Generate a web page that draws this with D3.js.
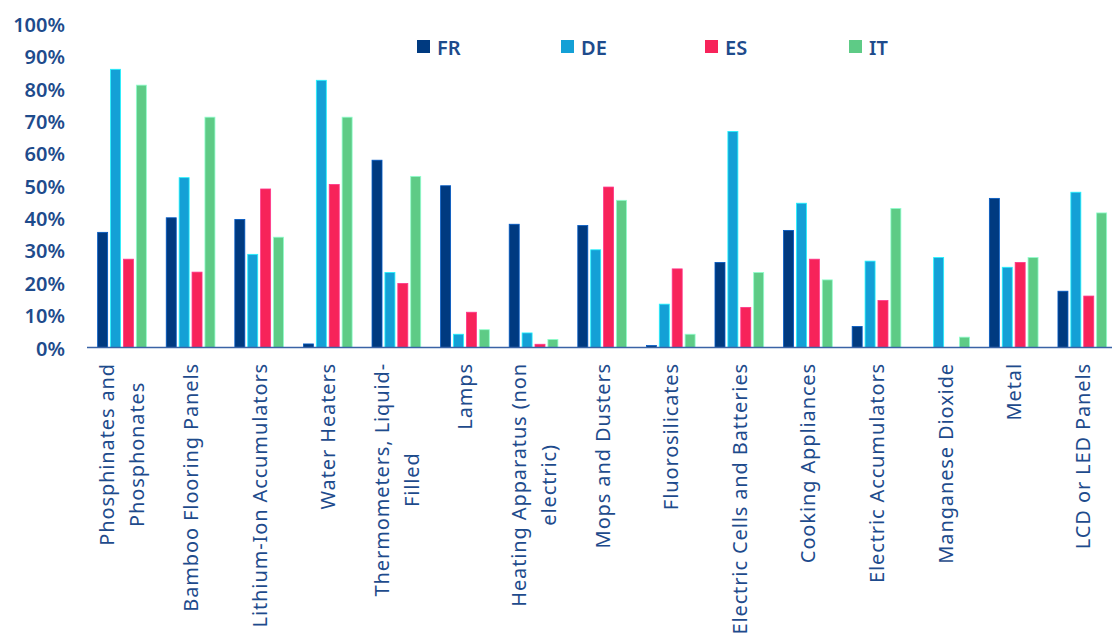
<!DOCTYPE html>
<html>
<head>
<meta charset="utf-8">
<script src="https://cdn.jsdelivr.net/npm/d3@7"></script>
<style>
  html, body { margin: 0; padding: 0; background: #ffffff; }
  svg { display: block; }
  text { font-family: "Noto Sans", "DejaVu Sans", sans-serif; fill: #1e4b8c; }
</style>
</head>
<body>
<svg id="chart" width="1112" height="641"></svg>
<script>
// Product categories (line breaks mark wrapped labels)
const categories = [
  "Phosphinates and\nPhosphonates",
  "Bamboo Flooring Panels",
  "Lithium-Ion Accumulators",
  "Water Heaters",
  "Thermometers, Liquid-\nFilled",
  "Lamps",
  "Heating Apparatus (non\nelectric)",
  "Mops and Dusters",
  "Fluorosilicates",
  "Electric Cells and Batteries",
  "Cooking Appliances",
  "Electric Accumulators",
  "Manganese Dioxide",
  "Metal",
  "LCD or LED Panels"
];

const seriesNames = ["FR", "DE", "ES", "IT"];
const seriesColors = ["#003a80", "#14a0d6", "#f7235a", "#5ecb86"];

// Shares per category, in percent
const valuesFR = [35.6, 40.1, 39.6, 1.1, 57.9, 50.0, 38.1, 37.7, 0.6, 26.3, 36.2, 6.5, 0, 46.1, 17.4];
const valuesDE = [86.0, 52.5, 28.8, 82.6, 23.2, 4.1, 4.5, 30.2, 13.4, 66.8, 44.6, 26.7, 27.8, 24.8, 48.0];
const valuesES = [27.3, 23.3, 49.0, 50.4, 19.8, 10.9, 1.0, 49.6, 24.3, 12.4, 27.3, 14.5, 0, 26.3, 15.9];
const valuesIT = [81.1, 71.2, 34.1, 71.2, 52.9, 5.5, 2.5, 45.5, 4.1, 23.2, 20.9, 43.0, 3.2, 27.8, 41.6];

const yTicks = [0, 10, 20, 30, 40, 50, 60, 70, 80, 90, 100];

const seriesValues = [valuesFR, valuesDE, valuesES, valuesIT];

const svg = d3.select("#chart");

const x0 = d3.scaleBand()
  .domain(categories)
  .range([87.7, 1116.6])
  .paddingInner(0.29)
  .paddingOuter(0.145);

const x1 = d3.scaleBand()
  .domain(seriesNames)
  .range([0, x0.bandwidth()])
  .paddingInner(0.225);

const y = d3.scaleLinear().domain([0, 100]).range([347.5, 24]);

const color = d3.scaleOrdinal().domain(seriesNames).range(seriesColors);

// Y axis labels (no axis line or ticks)
const yAxis = d3.axisLeft(y)
  .tickValues(yTicks)
  .tickFormat(d => d + "%")
  .tickSize(0)
  .tickPadding(0);

const yg = svg.append("g")
  .attr("transform", "translate(65,0)")
  .call(yAxis);
yg.select(".domain").remove();
yg.selectAll("text")
  .attr("font-size", 20)
  .attr("font-weight", 600)
  .attr("dy", null)
  .attr("dominant-baseline", "central")
  .style("font-family", "\"Noto Sans\", sans-serif")
  .attr("fill", "#1e4b8c");

// Bars
const rows = categories.map((c, i) => ({
  cat: c,
  vals: seriesNames.map((s, j) => ({ s, v: seriesValues[j][i] }))
}));

const groups = svg.append("g").selectAll("g")
  .data(rows)
  .join("g")
  .attr("transform", d => `translate(${x0(d.cat)},0)`);

groups.selectAll("rect")
  .data(d => d.vals.filter(e => e.v > 0))
  .join("rect")
  .attr("x", e => x1(e.s))
  .attr("width", x1.bandwidth())
  .attr("y", e => y(e.v))
  .attr("height", e => y(0) - y(e.v))
  .attr("fill", e => color(e.s))
  .attr("stroke", e => d3.color(color(e.s)).brighter(1.2))
  .attr("stroke-width", 0.8);

// Category axis baseline
svg.append("line")
  .attr("x1", 87)
  .attr("x2", 1112)
  .attr("y1", y(0))
  .attr("y2", y(0))
  .attr("stroke", "#3a63a6")
  .attr("stroke-width", 1.6);

// Rotated category labels
const labelTop = 363;
const lineHeight = 30;
const labels = svg.append("g").selectAll("g")
  .data(categories)
  .join("g")
  .attr("transform", d => `translate(${x0(d) + x0.bandwidth() / 2},${labelTop}) rotate(-90)`);

labels.each(function(d) {
  const g = d3.select(this);
  const lines = d.split("\n");
  const n = lines.length;
  const texts = lines.map((ln, i) => g.append("text")
    .attr("font-size", 20)
    .attr("letter-spacing", 0.88)
    .attr("dominant-baseline", "central")
    .attr("y", (i - (n - 1) / 2) * lineHeight)
    .text(ln));
  const widest = d3.max(texts, t => t.node().getComputedTextLength());
  texts.forEach(t => t.attr("text-anchor", "middle").attr("x", -widest / 2));
});

// Legend
const legend = svg.append("g").selectAll("g")
  .data(seriesNames)
  .join("g")
  .attr("transform", (d, i) => `translate(${417 + i * 144},40)`);

legend.append("rect")
  .attr("width", 13)
  .attr("height", 13)
  .attr("fill", d => color(d));

legend.append("text")
  .attr("x", 20)
  .attr("y", 7)
  .attr("dominant-baseline", "central")
  .attr("font-size", 20)
  .attr("font-weight", 600)
  .text(d => d);
</script>
</body>
</html>
